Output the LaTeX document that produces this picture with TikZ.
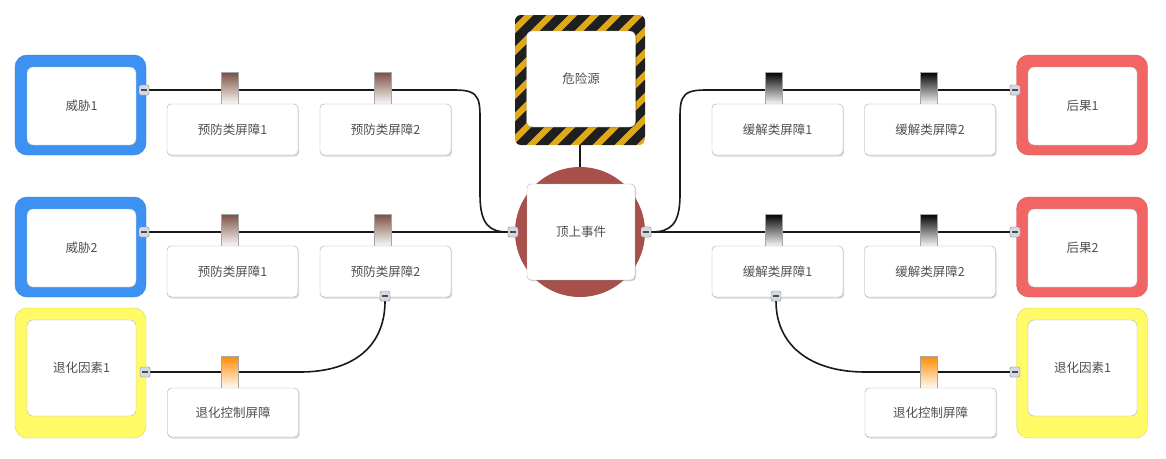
\documentclass[tikz,border=0pt]{standalone}
\usepackage{fontspec}
\setmainfont{Noto Sans CJK SC}
\usetikzlibrary{shadows}
\definecolor{tblue}{HTML}{3D91F2}
\definecolor{cred}{HTML}{F26565}
\definecolor{dyel}{HTML}{FFFA66}
\definecolor{hyel}{HTML}{E2A912}
\definecolor{tecol}{HTML}{A8514C}
\definecolor{brn}{HTML}{7A5040}
\definecolor{org}{HTML}{FF8A00}
\definecolor{txt}{HTML}{505050}
\definecolor{btnfill}{HTML}{D4DAE0}
\definecolor{btndraw}{HTML}{8A96A2}
\tikzset{
  lbl/.style={font=\fontsize{12.5}{14}\selectfont, text=txt},
  outerbox/.style={rounded corners=12pt, minimum width=131pt, inner sep=0pt, draw=#1!85!black, fill=#1},
  innerbox/.style={lbl, rounded corners=6pt, fill=white, draw=gray!60, minimum width=109pt, inner sep=0pt},
  barrier/.style={lbl, rounded corners=4pt, fill=white, draw=gray!70, minimum width=131pt, minimum height=51pt, inner sep=0pt,
     drop shadow={shadow xshift=1pt, shadow yshift=-1.5pt, opacity=0.15, fill=black}},
  tab/.style={draw=gray!70, minimum width=17pt, minimum height=33pt, inner sep=0pt, top color=#1, middle color=#1!75!white, bottom color=white},
  conn/.style={line width=1.6pt, draw=black!90},
  btn/.style={draw=btndraw, fill=btnfill, minimum size=10pt, inner sep=0pt, rounded corners=1.5pt,
     path picture={\draw[line width=1.5pt, black!70] ([xshift=-3pt]path picture bounding box.center) -- ([xshift=3pt]path picture bounding box.center);}},
}
\begin{document}
\begin{tikzpicture}[x=1pt,y=-1pt]
\useasboundingbox (0,0) rectangle (1166,458);

% ---------- connectors ----------
\coordinate (la) at (455,90);
\coordinate (ra) at (705,90);
\node[btn] (bt1) at (144,90) {};
\node[btn] (bt2) at (144,232) {};
\node[btn] (bd1) at (145,372) {};
\node[btn] (btl) at (513,232) {};
\node[btn] (btr) at (646,232) {};
\node[btn] (bc1) at (1015,90) {};
\node[btn] (bc2) at (1015,232) {};
\node[btn] (bd2) at (1015,372) {};
\node[btn] (bp22) at (385,296) {};
\node[btn] (bm21) at (776,296) {};

\draw[conn] (bt1.east) -- (la) .. controls (482,90) and (480,100) .. (480,130) -- (480,195) .. controls (480,225) and (490,232) .. (btl.west);
\draw[conn] (bt2.east) -- (btl.west);
\draw[conn] (bd1.east) -- (300,372) .. controls (355,372) and (385,345) .. (bp22.south);
\draw[conn] (btr.east) -- (bc2.west);
\draw[conn] (btr.east) .. controls (670,232) and (680,225) .. (680,195) -- (680,130) .. controls (680,100) and (678,90) .. (ra) -- (bc1.west);
\draw[conn] (bm21.south) .. controls (776,345) and (810,372) .. (865,372) -- (bd2.west);

% ---------- hazard ----------
\node[minimum width=130pt, minimum height=130pt, inner sep=0pt] (hz) at (580,80) {};
\draw[conn] (hz.south) -- (580,168);
\begin{scope}
  \clip[rounded corners=6pt] (515,15) rectangle (645,145);
  \fill[hyel] (515,15) rectangle (645,145);
  \foreach \k in {-7,...,7} {
    \draw[line width=9pt, black!88] (515+\k*22,150) -- (515+\k*22+140,10);
  }
\end{scope}
\node[innerbox, minimum height=96pt, drop shadow={shadow xshift=1pt, shadow yshift=-1pt, opacity=0.2, fill=black}] (hzi) at (581,79) {危险源};

% ---------- top event ----------
\node[circle, fill=tecol, minimum size=130pt, inner sep=0pt] (te) at (580,232) {};
\node[innerbox, minimum width=108pt, minimum height=96pt, rounded corners=4pt,
  drop shadow={shadow xshift=1pt, shadow yshift=-1pt, opacity=0.2, fill=black}] (tei) at (581,232) {顶上事件};
\node[btn] at (btl) {};
\node[btn] at (btr) {};

% ---------- left side ----------
\node[outerbox=tblue, minimum height=100pt] (t1) at (80.5,105) {};
\node[innerbox, minimum height=78pt] (t1i) at (81.5,106) {威胁1};
\node[outerbox=tblue, minimum height=100pt] (t2) at (80.5,247) {};
\node[innerbox, minimum height=78pt] (t2i) at (81.5,248) {威胁2};
\node[outerbox=dyel, minimum height=130pt] (d1) at (80.5,373) {};
\node[innerbox, minimum height=96pt] (d1i) at (81.5,368) {退化因素1};

\node[tab=brn] (tp11) at (229.5,88.5) {};
\node[barrier] (p11) at (232.5,129.5) {预防类屏障1};
\node[tab=brn] (tp12) at (382.5,88.5) {};
\node[barrier] (p12) at (385.5,129.5) {预防类屏障2};
\node[tab=brn] (tp21) at (229.5,230.5) {};
\node[barrier] (p21) at (232.5,271.5) {预防类屏障1};
\node[tab=brn] (tp22) at (382.5,230.5) {};
\node[barrier] (p22) at (385.5,271.5) {预防类屏障2};
\node[tab=org] (tdc1) at (230,372.5) {};
\node[barrier, minimum height=49pt] (dc1) at (233,412.5) {退化控制屏障};

% ---------- right side ----------
\node[outerbox=cred, minimum height=100pt] (c1) at (1082,105) {};
\node[innerbox, minimum height=78pt] (c1i) at (1082.5,106) {后果1};
\node[outerbox=cred, minimum height=100pt] (c2) at (1082,247) {};
\node[innerbox, minimum height=78pt] (c2i) at (1082.5,248) {后果2};
\node[outerbox=dyel, minimum height=130pt] (d2) at (1082,373) {};
\node[innerbox, minimum height=96pt] (d2i) at (1082.5,368) {退化因素1};

\node[tab=black] (tm11) at (774,88.5) {};
\node[barrier] (m11) at (777.5,129.5) {缓解类屏障1};
\node[tab=black] (tm12) at (928.5,88.5) {};
\node[barrier] (m12) at (930,129.5) {缓解类屏障2};
\node[tab=black] (tm21) at (774,230.5) {};
\node[barrier] (m21) at (777.5,271.5) {缓解类屏障1};
\node[tab=black] (tm22) at (928.5,230.5) {};
\node[barrier] (m22) at (930,271.5) {缓解类屏障2};
\node[tab=org] (tdc2) at (928.5,372.5) {};
\node[barrier, minimum height=49pt] (dc2) at (930.5,412.5) {退化控制屏障};

% ---------- buttons on top ----------
\node[btn] at (bt1) {};
\node[btn] at (bt2) {};
\node[btn] at (bd1) {};
\node[btn] at (bc1) {};
\node[btn] at (bc2) {};
\node[btn] at (bd2) {};
\node[btn] at (bp22) {};
\node[btn] at (bm21) {};
\end{tikzpicture}
\end{document}
